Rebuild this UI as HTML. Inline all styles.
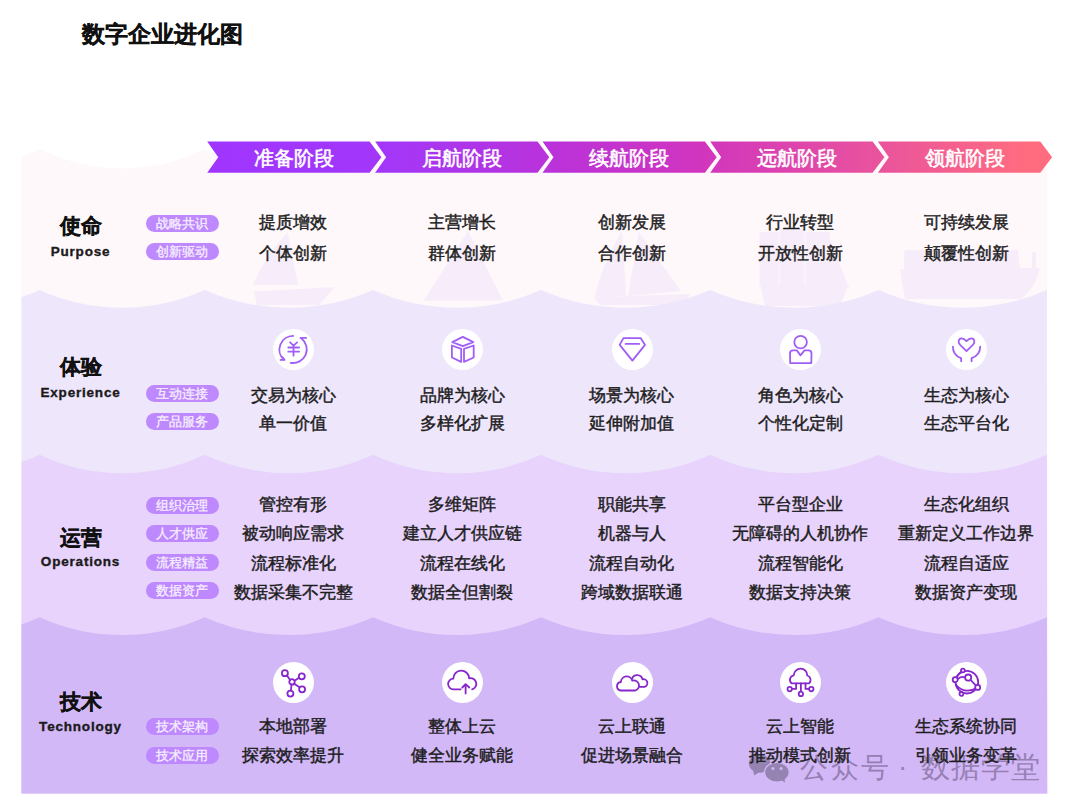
<!DOCTYPE html>
<html><head><meta charset="utf-8">
<style>
html,body{margin:0;padding:0;background:#fff;}
body{width:1072px;height:810px;position:relative;overflow:hidden;font-family:"Liberation Sans",sans-serif;}
.t{position:absolute;white-space:nowrap;line-height:1;}
.title{left:81.5px;top:22.5px;font-size:23px;font-weight:bold;color:#111;-webkit-text-stroke:0.3px #111;}
.stg{font-size:20px;font-weight:normal;color:#fff;-webkit-text-stroke:0.55px #fff;transform:translateX(-50%);}
.cj{font-size:21px;font-weight:bold;color:#111;transform:translateX(-50%);-webkit-text-stroke:0.3px #111;}
.en{font-size:13.5px;font-weight:bold;color:#1a1a1a;transform:translateX(-50%);letter-spacing:0.8px;-webkit-text-stroke:0.35px #1a1a1a;}
.pill{position:absolute;left:145.7px;width:73px;height:17px;border-radius:9px;background:#be88fe;color:#f6efff;font-size:13px;line-height:17px;text-align:center;-webkit-text-stroke:0.3px #f6efff;}
.c{z-index:3;font-size:17px;font-weight:normal;color:#1e1e1e;-webkit-text-stroke:0.45px #1e1e1e;transform:translateX(-50%);}
.ic{position:absolute;width:41px;height:41px;border-radius:50%;background:#fff;}
.ic svg{position:absolute;left:0;top:0;}
.wm{top:753.5px;font-size:28px;color:#9680b3;z-index:1;}
</style></head><body>

<svg width="1072" height="810" style="position:absolute;left:0;top:0"><defs><linearGradient id="ag" gradientUnits="userSpaceOnUse" x1="207" y1="0" x2="1053" y2="0"><stop offset="0" stop-color="#a035ff"/><stop offset="0.2" stop-color="#a237fa"/><stop offset="0.418" stop-color="#bb32d8"/><stop offset="0.584" stop-color="#d135be"/><stop offset="0.785" stop-color="#e8529e"/><stop offset="0.965" stop-color="#ff6c80"/><stop offset="1" stop-color="#ff6c80"/></linearGradient></defs>
<path d="M21.5,793.5 L21.5,156.73 A195.8,195.8 0 0 0 39.6,149.2 A188.8,188.8 0 0 0 204.7,149.2 A196.1,196.1 0 0 0 373.1,149.2 A195.0,195.0 0 0 0 541.0,149.2 A197.6,197.6 0 0 0 710.1,149.2 A196.3,196.3 0 0 0 878.6,149.2 A196.1,196.1 0 0 0 1047.0,149.2 L1047.2,793.5 Z" fill="#fef8fb"/><g fill="#f3e8fa" opacity="0.7"><path d="M287.5,232.3 Q264,258 252.8,284.8 L298,284.8 Z M253.9,291.5 L334.7,287 L319,305 L257,305 Z"/><path d="M468,231.3 L423.9,300.6 L502.6,300.6 Z"/><path d="M622,231.3 Q602,265 594.7,296.4 L626.2,296.4 Z M638.8,232.3 L628,296 L680.8,291 Z M594,297 L690,294 L685,305 L600,305 Z"/><path d="M759.6,232 h19 v54 h-19z M779.7,229 h24.6 v57 h-24.6z M805.5,232 h24.5 v54 h-24.5z M830,240 L849,288 L830,288 Z M760.7,286 L849,284 L840,306 L765,306 Z"/><path d="M904.4,250 L1017.8,250 L1020,269 L904,269 Z M900,269 L1040,268 Q1035,290 1020,299 L905,299 Z M1032,252 h4 v20 h-4z"/></g><path d="M21.5,793.5 L21.5,296.98 A208.9,208.9 0 0 0 39.6,290.0 A201.4,201.4 0 0 0 204.7,290.0 A209.1,209.1 0 0 0 373.1,290.0 A207.9,207.9 0 0 0 541.0,290.0 A210.8,210.8 0 0 0 710.1,290.0 A209.4,209.4 0 0 0 878.6,290.0 A209.1,209.1 0 0 0 1047.0,290.0 L1047.2,793.5 Z" fill="#eee6fb"/><path d="M21.5,793.5 L21.5,462.12 A200.6,200.6 0 0 0 39.6,454.8 A193.4,193.4 0 0 0 204.7,454.8 A200.9,200.9 0 0 0 373.1,454.8 A199.7,199.7 0 0 0 541.0,454.8 A202.5,202.5 0 0 0 710.1,454.8 A201.1,201.1 0 0 0 878.6,454.8 A200.9,200.9 0 0 0 1047.0,454.8 L1047.2,793.5 Z" fill="#e8d3fc"/><path d="M21.5,793.5 L21.5,624.32 A207.8,207.8 0 0 0 39.6,617.3 A200.3,200.3 0 0 0 204.7,617.3 A208.0,208.0 0 0 0 373.1,617.3 A206.9,206.9 0 0 0 541.0,617.3 A209.7,209.7 0 0 0 710.1,617.3 A208.3,208.3 0 0 0 878.6,617.3 A208.0,208.0 0 0 0 1047.0,617.3 L1047.2,793.5 Z" fill="#d3b8f8"/>
<polygon points="207.2,141.6 369.6,141.6 381.4,157.2 369.6,172.8 207.2,172.8 218.2,157.2" fill="url(#ag)"/><polygon points="375.1,141.6 537.5,141.6 549.3,157.2 537.5,172.8 375.1,172.8 386.1,157.2" fill="url(#ag)"/><polygon points="542.5,141.6 704.9,141.6 716.7,157.2 704.9,172.8 542.5,172.8 553.5,157.2" fill="url(#ag)"/><polygon points="710.2,141.6 872.6,141.6 884.4,157.2 872.6,172.8 710.2,172.8 721.2,157.2" fill="url(#ag)"/><polygon points="877.9,141.6 1040.3,141.6 1052.1,157.2 1040.3,172.8 877.9,172.8 888.9,157.2" fill="url(#ag)"/>
</svg>
<div class="t title">数字企业进化图</div>
<div class="t stg" style="left:294.0px;top:148px">准备阶段</div>
<div class="t stg" style="left:461.5px;top:148px">启航阶段</div>
<div class="t stg" style="left:629.3px;top:148px">续航阶段</div>
<div class="t stg" style="left:796.6px;top:148px">远航阶段</div>
<div class="t stg" style="left:964.8px;top:148px">领航阶段</div>
<div class="t cj" style="left:80.5px;top:214.5px">使命</div>
<div class="t en" style="left:80.5px;top:244.5px">Purpose</div>
<div class="t cj" style="left:80.5px;top:355.5px">体验</div>
<div class="t en" style="left:80.5px;top:385.5px">Experience</div>
<div class="t cj" style="left:80.5px;top:527.0px">运营</div>
<div class="t en" style="left:80.5px;top:555.0px">Operations</div>
<div class="t cj" style="left:80.5px;top:690.5px">技术</div>
<div class="t en" style="left:80.5px;top:720.0px">Technology</div>
<div class="pill" style="top:214.6px">战略共识</div>
<div class="pill" style="top:242.5px">创新驱动</div>
<div class="pill" style="top:385.0px">互动连接</div>
<div class="pill" style="top:413.0px">产品服务</div>
<div class="pill" style="top:497.4px">组织治理</div>
<div class="pill" style="top:525.4px">人才供应</div>
<div class="pill" style="top:553.9px">流程精益</div>
<div class="pill" style="top:582.0px">数据资产</div>
<div class="pill" style="top:718.2px">技术架构</div>
<div class="pill" style="top:746.7px">技术应用</div>
<div class="t c" style="left:293.2px;top:214.0px">提质增效</div>
<div class="t c" style="left:462.3px;top:214.0px">主营增长</div>
<div class="t c" style="left:631.7px;top:214.0px">创新发展</div>
<div class="t c" style="left:800.3px;top:214.0px">行业转型</div>
<div class="t c" style="left:966.2px;top:214.0px">可持续发展</div>
<div class="t c" style="left:293.2px;top:244.5px">个体创新</div>
<div class="t c" style="left:462.3px;top:244.5px">群体创新</div>
<div class="t c" style="left:631.7px;top:244.5px">合作创新</div>
<div class="t c" style="left:800.3px;top:244.5px">开放性创新</div>
<div class="t c" style="left:966.2px;top:244.5px">颠覆性创新</div>
<div class="t c" style="left:293.2px;top:387.0px">交易为核心</div>
<div class="t c" style="left:462.3px;top:387.0px">品牌为核心</div>
<div class="t c" style="left:631.7px;top:387.0px">场景为核心</div>
<div class="t c" style="left:800.3px;top:387.0px">角色为核心</div>
<div class="t c" style="left:966.2px;top:387.0px">生态为核心</div>
<div class="t c" style="left:293.2px;top:415.0px">单一价值</div>
<div class="t c" style="left:462.3px;top:415.0px">多样化扩展</div>
<div class="t c" style="left:631.7px;top:415.0px">延伸附加值</div>
<div class="t c" style="left:800.3px;top:415.0px">个性化定制</div>
<div class="t c" style="left:966.2px;top:415.0px">生态平台化</div>
<div class="t c" style="left:293.2px;top:496.0px">管控有形</div>
<div class="t c" style="left:462.3px;top:496.0px">多维矩阵</div>
<div class="t c" style="left:631.7px;top:496.0px">职能共享</div>
<div class="t c" style="left:800.3px;top:496.0px">平台型企业</div>
<div class="t c" style="left:966.2px;top:496.0px">生态化组织</div>
<div class="t c" style="left:293.2px;top:525.0px">被动响应需求</div>
<div class="t c" style="left:462.3px;top:525.0px">建立人才供应链</div>
<div class="t c" style="left:631.7px;top:525.0px">机器与人</div>
<div class="t c" style="left:800.3px;top:525.0px">无障碍的人机协作</div>
<div class="t c" style="left:966.2px;top:525.0px">重新定义工作边界</div>
<div class="t c" style="left:293.2px;top:554.5px">流程标准化</div>
<div class="t c" style="left:462.3px;top:554.5px">流程在线化</div>
<div class="t c" style="left:631.7px;top:554.5px">流程自动化</div>
<div class="t c" style="left:800.3px;top:554.5px">流程智能化</div>
<div class="t c" style="left:966.2px;top:554.5px">流程自适应</div>
<div class="t c" style="left:293.2px;top:583.5px">数据采集不完整</div>
<div class="t c" style="left:462.3px;top:583.5px">数据全但割裂</div>
<div class="t c" style="left:631.7px;top:583.5px">跨域数据联通</div>
<div class="t c" style="left:800.3px;top:583.5px">数据支持决策</div>
<div class="t c" style="left:966.2px;top:583.5px">数据资产变现</div>
<div class="t c" style="left:293.2px;top:718.0px">本地部署</div>
<div class="t c" style="left:462.3px;top:718.0px">整体上云</div>
<div class="t c" style="left:631.7px;top:718.0px">云上联通</div>
<div class="t c" style="left:800.3px;top:718.0px">云上智能</div>
<div class="t c" style="left:966.2px;top:718.0px">生态系统协同</div>
<div class="t c" style="left:293.2px;top:746.5px">探索效率提升</div>
<div class="t c" style="left:462.3px;top:746.5px">健全业务赋能</div>
<div class="t c" style="left:631.7px;top:746.5px">促进场景融合</div>
<div class="t c" style="left:800.3px;top:746.5px">推动模式创新</div>
<div class="t c" style="left:966.2px;top:746.5px">引领业务变革</div>
<div class="ic" style="left:273.0px;top:329.0px"><svg width="41" height="41" viewBox="-20.5 -20.5 41 41"><g fill="none" stroke="#a15ef6" stroke-width="1.80" stroke-linecap="round" stroke-linejoin="round"><path d="M-0.3,-13.6 A13.7,13.7 0 0 0 -9.6,10.2" /><path d="M-13,10.4 L-9,10.4 L-11.2,7.6"/><path d="M-2.8,13.3 A13.7,13.7 0 0 0 8,-11" /><path d="M7,-11.6 L12.6,-11.6"/><path d="M-3.4,-7.2 L0,-3.8 L3.6,-7.2 M0,-3.8 L0,6.2 M-5.2,-2 L5.6,-2 M-5.2,2.2 L5.6,2.2"/></g></svg></div>
<div class="ic" style="left:273.0px;top:661.5px"><svg width="41" height="41" viewBox="-20.5 -20.5 41 41"><g fill="none" stroke="#8726cc" stroke-width="1.80" stroke-linecap="round" stroke-linejoin="round"><circle cx="-1.5" cy="-0.6" r="2.7"/><circle cx="-8.6" cy="-9.3" r="3"/><circle cx="8.3" cy="-6.2" r="3"/><circle cx="8.6" cy="6.8" r="3"/><circle cx="-3.1" cy="11.1" r="3"/><path d="M-3.4,-2.6 L-6.5,-7 M1.1,-1.7 L5.5,-4.8 M0.7,1.2 L6,4.8 M-2,2 L-2.6,8"/></g></svg></div>
<div class="ic" style="left:442.1px;top:329.0px"><svg width="41" height="41" viewBox="-20.5 -20.5 41 41"><g fill="none" stroke="#a15ef6" stroke-width="1.80" stroke-linecap="round" stroke-linejoin="round"><path d="M0.3,-12.6 L10.8,-7.4 L0.3,-3.4 L-10.2,-7.4 Z"/><path d="M-10.6,-4 L-1.3,-0.6 L-1.3,12.4 L-10.6,8 Z"/><path d="M11.2,-4 L1.5,-0.6 L1.5,12.4 L11.2,8 Z"/></g></svg></div>
<div class="ic" style="left:442.1px;top:661.5px"><svg width="41" height="41" viewBox="-20.5 -20.5 41 41"><g fill="none" stroke="#8726cc" stroke-width="1.80" stroke-linecap="round" stroke-linejoin="round"><path d="M-1.8,6.8 L-9,6.8 A5.3,5.3 0 0 1 -9.2,-3.8 A7.9,7.9 0 0 1 6.6,-4.2 A5.5,5.5 0 0 1 9.6,6.8"/><path d="M3.1,11.1 L3.1,1.8 M-0.2,5 L3.1,1.6 L6.8,5"/></g></svg></div>
<div class="ic" style="left:611.5px;top:329.0px"><svg width="41" height="41" viewBox="-20.5 -20.5 41 41"><g fill="none" stroke="#a15ef6" stroke-width="1.80" stroke-linecap="round" stroke-linejoin="round"><path d="M-9.1,-11.4 L8.2,-11.4 L12.5,-4.6 L-0.1,11.1 L-12.8,-4.6 Z"/><path d="M-6.9,-5.6 L6.7,-5.6"/></g></svg></div>
<div class="ic" style="left:611.5px;top:661.5px"><svg width="41" height="41" viewBox="-20.5 -20.5 41 41"><g fill="none" stroke="#8726cc" stroke-width="1.80" stroke-linecap="round" stroke-linejoin="round"><path d="M3,8 L-12,8 A4.3,4.3 0 0 1 -11.6,-0.5 A5.8,5.8 0 0 1 -0.2,-1.8 A5,5 0 0 1 3,8 Z"/><path d="M-0.5,-3.8 A5.5,5.5 0 0 1 10,-3.2 A3.8,3.8 0 0 1 12,4.3 L7.2,4.3"/></g></svg></div>
<div class="ic" style="left:780.1px;top:329.0px"><svg width="41" height="41" viewBox="-20.5 -20.5 41 41"><g fill="none" stroke="#a15ef6" stroke-width="1.80" stroke-linecap="round" stroke-linejoin="round"><circle cx="0.1" cy="-7.4" r="6.3"/><path d="M-3.7,0.9 L0,5.9 L4,0.9 L8,0.9 Q11,0.9 11,4 L10.8,13.6 L-10.3,13.6 L-10.5,4 Q-10.5,0.9 -7.5,0.9 Z"/></g></svg></div>
<div class="ic" style="left:780.1px;top:661.5px"><svg width="41" height="41" viewBox="-20.5 -20.5 41 41"><g fill="none" stroke="#8726cc" stroke-width="1.80" stroke-linecap="round" stroke-linejoin="round"><path d="M-9,0.8 A4.6,4.6 0 0 1 -6.7,-7.2 A6.6,6.6 0 0 1 6.8,-7 A4.6,4.6 0 0 1 8.6,0.8 Z"/><path d="M-4.4,1 L-4.4,6.4 L-8.2,6.4 M0.4,1 L0.4,9.1 M5,1 L5,6.4 L8.6,6.4"/><circle cx="-10.8" cy="6.6" r="2.2"/><circle cx="0.4" cy="11.4" r="2.2"/><circle cx="10.8" cy="6.6" r="2.2"/></g></svg></div>
<div class="ic" style="left:946.0px;top:329.0px"><svg width="41" height="41" viewBox="-20.5 -20.5 41 41"><g fill="none" stroke="#a15ef6" stroke-width="1.80" stroke-linecap="round" stroke-linejoin="round"><path d="M0,1.6 L-6.6,-4.9 C-8.8,-7.2 -8,-11 -5,-11.2 C-3,-11.3 -1.5,-10 0,-8.4 C1.5,-10 3,-11.3 5,-11.2 C8,-11 8.8,-7.2 6.6,-4.9 Z"/><path d="M-13.6,-2.8 C-13.6,3 -10,7 -5.4,8.6 L-5.3,11.8"/><path d="M13.7,-2.8 C13.7,3 10,7 5.1,8.6 L5.1,11.8"/></g></svg></div>
<div class="ic" style="left:946.0px;top:661.5px"><svg width="41" height="41" viewBox="-20.5 -20.5 41 41"><g fill="none" stroke="#8726cc" stroke-width="1.80" stroke-linecap="round" stroke-linejoin="round"><circle cx="0.4" cy="-0.3" r="11.3"/><path d="M-10.4,2.5 Q-2,12 10.4,5.6"/><path d="M-8.8,-3.4 Q-5,-6.5 -1.8,-5.2 M3.8,-3 L9.4,3.2 M-10,-5.4 Q-7,-10 -5.4,-10.8"/><g fill="#fff"><circle cx="-3.6" cy="-12" r="1.9"/><circle cx="-11.3" cy="-2.8" r="2.5"/><circle cx="1.7" cy="-4.9" r="3.1"/><circle cx="11.2" cy="4.9" r="2.5"/><circle cx="-5.1" cy="11.4" r="1.9"/></g></g></svg></div>
<svg width="50" height="36" style="position:absolute;left:744px;top:750px;z-index:1" viewBox="744 750 50 36"><ellipse cx="759.6" cy="763.6" rx="10.8" ry="9.2" fill="#9583b1"/><path d="M753,770 L754.2,775.6 L760,771.5 Z" fill="#9583b1"/><ellipse cx="776.9" cy="772.2" rx="12.3" ry="9.9" fill="#9583b1" stroke="#d3b8f8" stroke-width="1.2"/><path d="M781,779 L784.8,783 L784.6,777 Z" fill="#9583b1"/><circle cx="772.9" cy="768.6" r="1.5" fill="#d3b8f8"/><circle cx="781.1" cy="768.6" r="1.5" fill="#d3b8f8"/></svg>
<div class="t wm" style="left:800px;letter-spacing:2.5px">公众号</div>
<div class="t wm" style="left:898px;top:752.5px">·</div>
<div class="t wm" style="left:920.5px;font-size:29px;top:752.5px;letter-spacing:1.1px">数据学堂</div>
</body></html>
